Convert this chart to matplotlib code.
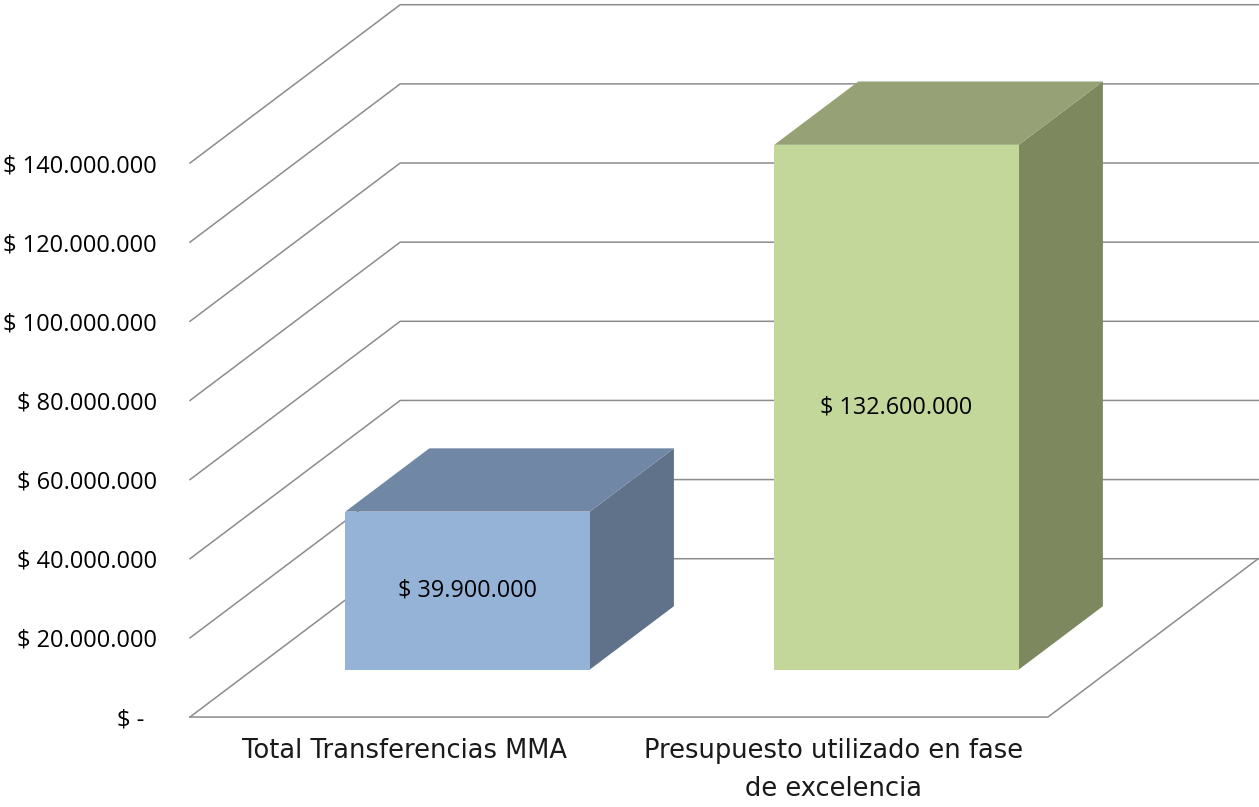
import matplotlib.pyplot as plt

# datos
categorias = ["Total Transferencias MMA", "Presupuesto utilizado en fase\nde excelencia"]
montos = [39_900_000, 132_600_000]
etiquetas = ["$ 39.900.000", "$ 132.600.000"]
ticks_y = [0, 20_000_000, 40_000_000, 60_000_000, 80_000_000,
           100_000_000, 120_000_000, 140_000_000]
ticks_y_txt = ["$ -  ", "$ 20.000.000", "$ 40.000.000", "$ 60.000.000",
               "$ 80.000.000", "$ 100.000.000", "$ 120.000.000", "$ 140.000.000"]

# colores (frente, techo, lado)
caras = [("#95B3D7", "#7187A6", "#5F728A"),
         ("#C4D79B", "#96A275", "#7D885F")]
gris = "#8C8C8C"

# perspectiva falsa tipo Excel
DX = 0.49          # profundidad en unidades de categoria
DY = 40_000_000    # profundidad en unidades de valor
ANCHO = 0.57
Z0, Z1 = 0.3, 0.7


def p(x, y, z):
    return (x + z * DX, y + z * DY)


fig = plt.figure(figsize=(12.59, 8.07), dpi=100)
ax = fig.add_axes([0.1509, 0.1115, 0.6815, 0.6865])
ax.set_xlim(0, len(categorias))
ax.set_ylim(0, ticks_y[-1])
for s in ax.spines.values():
    s.set_visible(False)

# rejilla: pared izquierda + pared del fondo
for v in ticks_y:
    a, b, c = p(0, v, 0), p(0, v, 1), p(len(categorias), v, 1)
    ax.plot([a[0], b[0], c[0]], [a[1], b[1], c[1]], color=gris, lw=1.1,
            clip_on=False, zorder=1, solid_joinstyle="miter")
# piso
a, b, c = p(0, 0, 0), p(len(categorias), 0, 0), p(len(categorias), 0, 1)
ax.plot([a[0], b[0], c[0]], [a[1], b[1], c[1]], color=gris, lw=1.1,
        clip_on=False, zorder=1, solid_joinstyle="miter")

# barras
for i, (h, col, txt) in enumerate(zip(montos, caras, etiquetas)):
    cx = i + 0.5
    x0, x1 = cx - ANCHO / 2, cx + ANCHO / 2
    lado = [p(x1, 0, Z0), p(x1, 0, Z1), p(x1, h, Z1), p(x1, h, Z0)]
    techo = [p(x0, h, Z0), p(x1, h, Z0), p(x1, h, Z1), p(x0, h, Z1)]
    frente = [p(x0, 0, Z0), p(x1, 0, Z0), p(x1, h, Z0), p(x0, h, Z0)]
    for poly, fc in ((lado, col[2]), (techo, col[1]), (frente, col[0])):
        ax.fill([q[0] for q in poly], [q[1] for q in poly], fc=fc, lw=0,
                clip_on=False, zorder=3)
    tx, ty = p(cx, h / 2, Z0)
    ax.text(tx, ty, txt, ha="center", va="center", fontsize=16.8,
            family=["Open Sans", "DejaVu Sans"], color="black", zorder=4)

# ejes
ax.set_yticks(ticks_y)
ax.set_yticklabels(ticks_y_txt, fontsize=17, family=["Open Sans", "DejaVu Sans"])
ax.tick_params(axis="y", length=0, pad=24)
ax.set_xticks([i + 0.5 for i in range(len(categorias))])
ax.set_xticklabels(categorias, fontsize=18.5, family=["DejaVu Sans"],
                   color="#1a1a1a")
ax.tick_params(axis="x", length=0, pad=15)
for lbl in ax.get_xticklabels():
    lbl.set_linespacing(1.6)

fig.savefig("out.png", dpi=100)
